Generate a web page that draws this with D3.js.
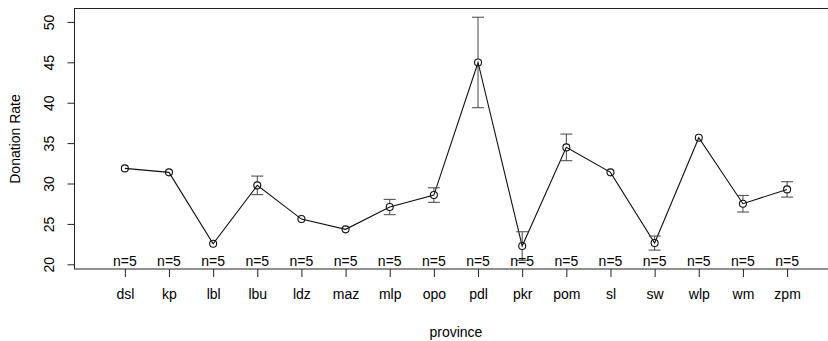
<!DOCTYPE html>
<html><head><meta charset="utf-8">
<script src="https://cdn.jsdelivr.net/npm/d3@7"></script>
<style>body{margin:0;background:#fff}svg{display:block;font-family:"Liberation Sans",Arial,sans-serif}</style>
</head><body><svg id="c" width="828" height="341"></svg>
<script>
const provinces = ["dsl","kp","lbl","lbu","ldz","maz","mlp","opo","pdl","pkr","pom","sl","sw","wlp","wm","zpm"];
const means = [31.87,31.38,22.55,29.77,25.6,24.33,27.09,28.57,44.98,22.26,34.47,31.38,22.63,35.66,27.5,29.27];
const errs  = [0.15,0.35,0.2,1.15,0.1,0.15,0.95,0.9,5.6,1.77,1.65,0.15,0.87,0.1,1.03,0.95];
const counts = [5,5,5,5,5,5,5,5,5,5,5,5,5,5,5,5];
const yTicks = [20,25,30,35,40,45,50];

const svg = d3.select("#c");
const L = 74.5, T = 8.5, B = 269;
const x = d3.scaleLinear().domain([-0.14, 17.14]).range([L, L + (17.28) * 44.15]);
const y = d3.scaleLinear().domain([19.42, 51.66]).range([B, T]);
const R = x(17.14);
const FS = "14px";

svg.append("rect").attr("x", L).attr("y", T).attr("width", R - L).attr("height", B - T)
  .attr("fill", "none").attr("stroke", "#222").attr("stroke-width", 1);

// y axis
const ya = svg.append("g").attr("transform", `translate(${L},0)`)
  .call(d3.axisLeft(y).tickValues(yTicks).tickSize(7).tickPadding(4).tickSizeOuter(0));
ya.select(".domain").attr("d", `M0,${y(20)}V${y(50)}`).attr("stroke", "#222");
ya.selectAll(".tick line").attr("stroke", "#222");
ya.selectAll(".tick text").attr("transform", "rotate(-90)").attr("x", 0).attr("y", -25.5)
  .attr("dy", "0.35em").attr("text-anchor", "middle").style("font-size", FS).attr("fill", "#000")
  .style("font-family", "Liberation Sans, Arial, sans-serif");

// x axis
const xa = svg.append("g").attr("transform", `translate(0,${B})`)
  .call(d3.axisBottom(x).tickValues(d3.range(1, provinces.length + 1)).tickFormat(d => provinces[d - 1])
    .tickSize(8).tickPadding(12).tickSizeOuter(0));
xa.select(".domain").remove();
xa.selectAll(".tick line").attr("stroke", "#222");
xa.selectAll(".tick text").style("font-size", FS).attr("fill", "#000")
  .style("font-family", "Liberation Sans, Arial, sans-serif");

svg.append("text").attr("x", x(8.5)).attr("y", 337).attr("text-anchor", "middle")
  .style("font-size", FS).attr("fill", "#000").text("province");
svg.append("text").attr("transform", `translate(20,139) rotate(-90)`).attr("text-anchor", "middle")
  .style("font-size", FS).attr("fill", "#000").text("Donation Rate");

const data = provinces.map((p, i) => ({ i: i + 1, m: means[i], e: errs[i], n: counts[i] }));
const r = 3.5;

// line
svg.append("path").datum(data)
  .attr("d", d3.line().x(d => x(d.i)).y(d => y(d.m)))
  .attr("fill", "none").attr("stroke", "#111").attr("stroke-width", 1.1);

// error bars
const eb = svg.append("g").attr("stroke", "#444").attr("stroke-width", 1);
data.forEach(d => {
  const cx = x(d.i), yt = y(d.m + d.e), yb = y(d.m - d.e), cy = y(d.m);
  if (cy - yt > r + 1) {
    eb.append("line").attr("x1", cx).attr("x2", cx).attr("y1", yt).attr("y2", cy - r);
    eb.append("line").attr("x1", cx).attr("x2", cx).attr("y1", cy + r).attr("y2", yb);
    eb.append("line").attr("x1", cx - 6).attr("x2", cx + 6).attr("y1", yt).attr("y2", yt);
    eb.append("line").attr("x1", cx - 6).attr("x2", cx + 6).attr("y1", yb).attr("y2", yb);
  }
});

// points
svg.append("g").selectAll("circle").data(data).join("circle")
  .attr("cx", d => x(d.i)).attr("cy", d => y(d.m)).attr("r", r)
  .attr("fill", "none").attr("stroke", "#111").attr("stroke-width", 1.1);

// n labels
svg.append("g").selectAll("text").data(data).join("text")
  .attr("x", d => x(d.i)).attr("y", B - 3).attr("text-anchor", "middle")
  .style("font-size", FS).attr("fill", "#000").text(d => "n=" + d.n);
</script></body></html>
